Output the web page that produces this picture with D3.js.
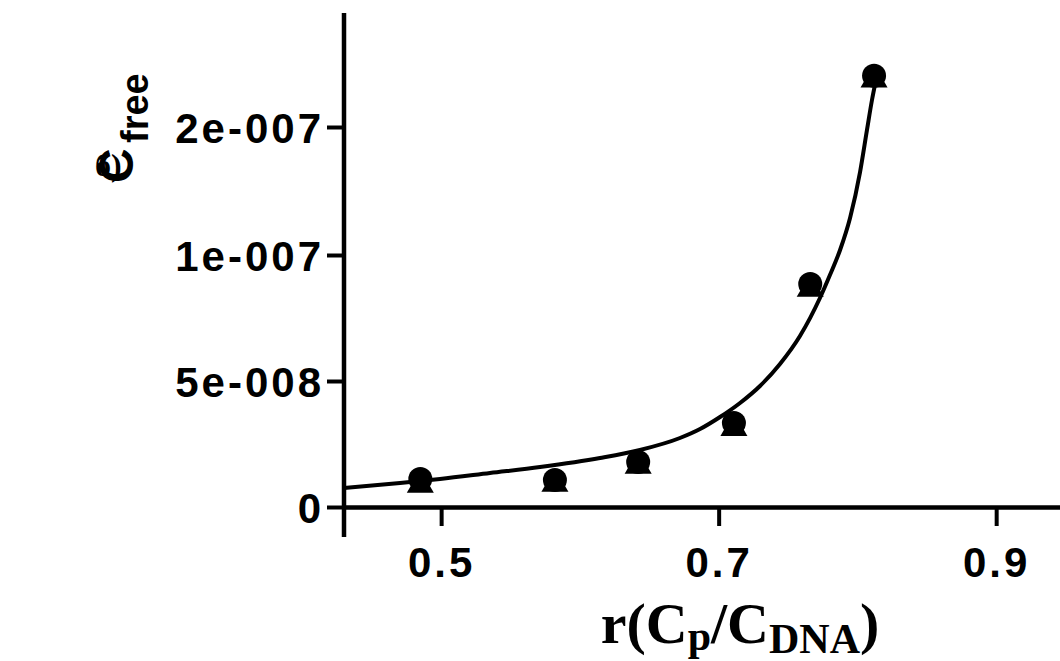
<!DOCTYPE html>
<html>
<head>
<meta charset="utf-8">
<script src="https://cdn.jsdelivr.net/npm/d3@7"></script>
<style>
  html, body { margin: 0; padding: 0; background: #fff; }
  svg { display: block; }
</style>
</head>
<body>
<svg id="chart" width="1060" height="661"></svg>
<script>
const width = 1060;
const height = 661;

// axis ticks
const xTicks = [0.5, 0.7, 0.9];
const xTickLabels = ["0.5", "0.7", "0.9"];
const yTicks = [0, 5e-8, 1e-7, 2e-7];
const yTickLabels = ["0", "5e-008", "1e-007", "2e-007"];

// measured points (two overlapping series: circles and triangles)
const ratio = [0.485, 0.582, 0.642, 0.711, 0.766, 0.812];
const cFreeCircle = [1.11e-8, 1.07e-8, 1.79e-8, 3.33e-8, 8.85e-8, 2.40e-7];
const cFreeTriangle = [0.87e-8, 0.91e-8, 1.63e-8, 3.13e-8, 8.65e-8, 2.37e-7];

// fitted curve
const fitRatio = [0.4300, 0.4704, 0.4992, 0.5352, 0.5713, 0.6145, 0.6433, 0.6721,
                  0.6866, 0.7010, 0.7154, 0.7298, 0.7442, 0.7586, 0.7730, 0.7802,
                  0.7875, 0.7947, 0.8019, 0.8069, 0.8105, 0.8134];
const fitCFree = [7.54e-9, 9.52e-9, 11.11e-9, 13.49e-9, 15.87e-9, 19.44e-9, 22.62e-9, 27.38e-9,
                  30.95e-9, 35.71e-9, 41.27e-9, 48.02e-9, 56.75e-9, 67.86e-9, 82.94e-9, 92.06e-9,
                  103.9e-9, 128.9e-9, 164.8e-9, 197.7e-9, 221.1e-9, 236.7e-9];

const svg = d3.select("#chart");

const axisX0 = 344;
const axisY0 = 507;

const x = d3.scaleLinear()
    .domain([0.43, 0.946])
    .range([axisX0, width]);

// segmented y axis: the 1e-7..2e-7 part is compressed
const y = d3.scaleLinear()
    .domain([0, 1e-7, 2e-7])
    .range([axisY0, 255, 127]);

const sansFont = "'Liberation Sans', Arial, sans-serif";
const serifFont = "'Liberation Serif', 'Times New Roman', serif";

// fitted line
const line = d3.line()
    .x(d => x(d[0]))
    .y(d => y(d[1]))
    .curve(d3.curveMonotoneX);

svg.append("path")
   .datum(fitRatio.map((r, i) => [r, fitCFree[i]]))
   .attr("d", line)
   .attr("fill", "none")
   .attr("stroke", "#000")
   .attr("stroke-width", 4);

// triangles (behind), then circles
svg.selectAll(".tri")
   .data(ratio)
   .enter()
   .append("path")
   .attr("class", "tri")
   .attr("d", d3.symbol().type(d3.symbolTriangle).size(316))
   .attr("transform", (d, i) => `translate(${x(d)},${y(cFreeTriangle[i])})`)
   .attr("fill", "#000");

svg.selectAll(".dot")
   .data(ratio)
   .enter()
   .append("circle")
   .attr("class", "dot")
   .attr("cx", d => x(d))
   .attr("cy", (d, i) => y(cFreeCircle[i]))
   .attr("r", 12)
   .attr("fill", "#000");

// x axis
const xAxis = svg.append("g")
    .attr("transform", `translate(0,${axisY0})`)
    .call(d3.axisBottom(x)
        .tickValues(xTicks)
        .tickFormat((d, i) => xTickLabels[i])
        .tickSize(19)
        .tickSizeOuter(0));

xAxis.select(".domain").attr("stroke-width", 4.5);
xAxis.selectAll(".tick line").attr("stroke-width", 4);
xAxis.selectAll(".tick text")
     .attr("y", 70)
     .attr("dy", null)
     .attr("fill", "#000")
     .style("font-family", sansFont)
     .style("font-weight", "bold")
     .style("font-size", "42px")
     .style("letter-spacing", "3px");

// y axis
const yAxis = svg.append("g")
    .attr("transform", `translate(${axisX0},0)`)
    .call(d3.axisLeft(y)
        .tickValues(yTicks)
        .tickFormat((d, i) => yTickLabels[i])
        .tickSize(17)
        .tickSizeOuter(0));

yAxis.select(".domain").remove();
yAxis.append("line")
     .attr("x1", 0).attr("x2", 0)
     .attr("y1", 13).attr("y2", 537)
     .attr("stroke", "#000")
     .attr("stroke-width", 4.5);
yAxis.selectAll(".tick line").attr("stroke-width", 4);
yAxis.selectAll(".tick text")
     .attr("x", -20)
     .attr("dy", "0.36em")
     .attr("fill", "#000")
     .style("font-family", sansFont)
     .style("font-weight", "bold")
     .style("font-size", "42px")
     .style("letter-spacing", "3px");

// y label: C_free, as two rotated pieces
svg.append("text")
   .attr("transform", "translate(133,183) rotate(-90)")
   .attr("fill", "#000")
   .style("font-family", "Arial, 'Liberation Sans', sans-serif")
   .style("font-weight", "bold")
   .style("font-size", "48px")
   .text("C");

svg.append("text")
   .attr("transform", "translate(148,143) rotate(-90)")
   .attr("fill", "#000")
   .style("font-family", sansFont)
   .style("font-weight", "bold")
   .style("font-size", "38px")
   .text("free");

// x label: r(Cp/CDNA)
const xLabel = svg.append("text")
    .attr("x", 740)
    .attr("y", 643)
    .attr("text-anchor", "middle")
    .attr("fill", "#000")
    .style("font-family", serifFont)
    .style("font-weight", "bold");

xLabel.append("tspan").style("font-size", "58px").text("r(C");
xLabel.append("tspan").style("font-size", "42px").attr("dy", 7).text("p");
xLabel.append("tspan").style("font-size", "58px").attr("dy", -7).text("/C");
xLabel.append("tspan").style("font-size", "42px").attr("dy", 10).text("DNA");
xLabel.append("tspan").style("font-size", "58px").attr("dy", -10).text(")");

// panel letter
svg.append("text")
   .attr("x", 95)
   .attr("y", 176)
   .attr("fill", "#000")
   .style("font-family", serifFont)
   .style("font-weight", "bold")
   .style("font-size", "32px")
   .text("б)");
</script>
</body>
</html>
